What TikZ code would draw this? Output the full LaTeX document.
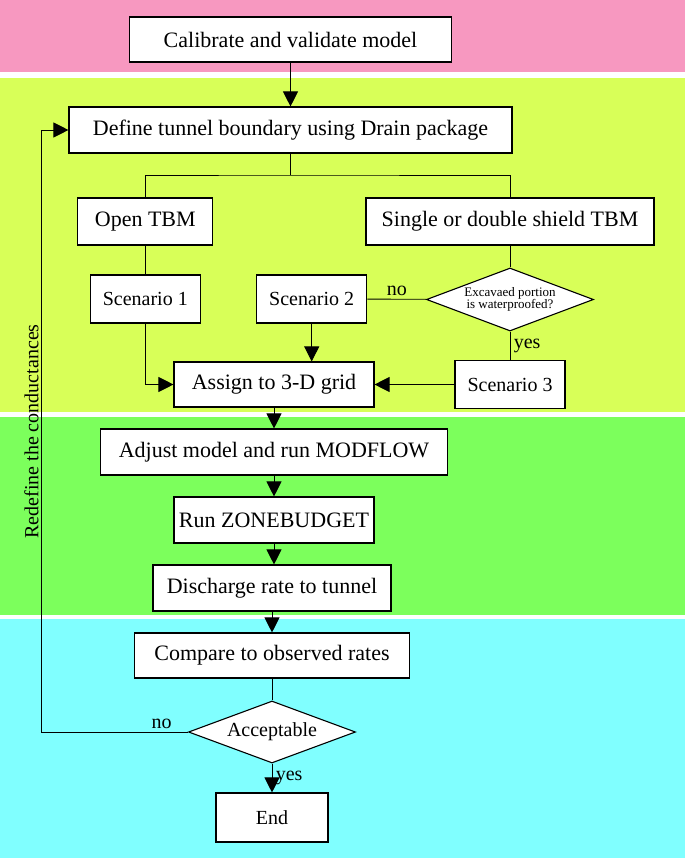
\documentclass[tikz,border=0pt]{standalone}
\usepackage{fontspec}
\setmainfont{Liberation Serif}
\usetikzlibrary{shapes.geometric,arrows.meta}

\definecolor{calibpink}{RGB}{247,152,192}
\definecolor{setupyellow}{RGB}{216,255,88}
\definecolor{rungreen}{RGB}{124,255,92}
\definecolor{checkcyan}{RGB}{128,255,255}

\begin{document}
\begin{tikzpicture}[x=1pt,y=-1pt]
    \tikzstyle{process} = [draw,fill=white,line width=1.1pt,inner sep=2pt,font=\fontsize{22}{26}\selectfont]
    \tikzstyle{scenario} = [process,minimum width=110,minimum height=48,font=\fontsize{20}{24}\selectfont]
    \tikzstyle{decision} = [draw,fill=white,diamond,aspect=2.65,line width=1.1pt,inner sep=0pt,align=center]
    \tikzstyle{flow} = [line width=0.9pt,-{Triangle[length=15pt,width=15pt]}]
    \tikzstyle{link} = [line width=0.9pt]
    \tikzstyle{answer} = [font=\fontsize{20}{24}\selectfont]
        % colour bands
        \useasboundingbox (0,0) rectangle (685,858);
        \fill[white] (0,0) rectangle (685,858);
        \fill[calibpink] (0,0) rectangle (685,72);
        \fill[setupyellow] (0,78) rectangle (685,412);
        \fill[rungreen] (0,417) rectangle (685,615);
        \fill[checkcyan] (0,619) rectangle (685,858);
        % boxes
        \node[process,minimum width=322,minimum height=45] (calib) at (290.5,39.5) {Calibrate and validate model};
        \node[process,minimum width=443,minimum height=46] (define) at (290.5,130) {Define tunnel boundary using Drain package};
        \node[process,minimum width=135,minimum height=47] (open) at (145.3,221.5) {Open TBM};
        \node[process,minimum width=288,minimum height=47] (single) at (510,221.5) {Single or double shield TBM};
        \node[scenario] (scen1) at (145.3,299) {Scenario 1};
        \node[scenario] (scen2) at (311.7,299) {Scenario 2};
        \node[decision,minimum width=167,minimum height=63,font=\fontsize{13}{12}\selectfont] (waterproof) at (510,299.5) {Excavaed portion\\is waterproofed?};
        \node[scenario] (scen3) at (510,384.5) {Scenario 3};
        \node[process,minimum width=200,minimum height=45] (assign) at (274,384.5) {Assign to 3-D grid};
        \node[process,minimum width=347,minimum height=46] (adjust) at (274,452) {Adjust model and run MODFLOW};
        \node[process,minimum width=200,minimum height=46] (zone) at (274,520) {Run ZONEBUDGET};
        \node[process,minimum width=238,minimum height=46] (discharge) at (272,588) {Discharge rate to tunnel};
        \node[process,minimum width=275,minimum height=45] (compare) at (272,655.5) {Compare to observed rates};
        \node[decision,minimum width=167,minimum height=62,font=\fontsize{20}{24}\selectfont] (accept) at (272,732) {Acceptable};
        \node[process,minimum width=112,minimum height=49,font=\fontsize{20}{24}\selectfont] (finish) at (272,817.5) {End};
        \node[answer,rotate=90] (redefine) at (31.5,431.5) {Redefine the conductances};
        \coordinate (split) at (290.5,175);
        \coordinate (loopturn) at (41.5,732);
        % connectors
        \draw[flow] (calib) -- (define);
        \draw[link] (define) -- (split);
        \draw[link] (open.north) |- (split) -| (single.north);
        \draw[link] (open) -- (scen1);
        \draw[link] (single) -- (waterproof);
        \draw[link] (waterproof) -- node[answer,above]{no} (scen2);
        \draw[link] (waterproof) -- node[answer,right]{yes} (scen3);
        \draw[flow] (scen1) |- (assign);
        \draw[flow] (scen2) -- (scen2 |- assign.north);
        \draw[flow] (scen3) -- (assign);
        \draw[flow] (assign) -- (adjust);
        \draw[flow] (adjust) -- (zone);
        \draw[flow] (zone) -- (zone |- discharge.north);
        \draw[flow] (discharge) -- (compare);
        \draw[link] (compare) -- (accept);
        \draw[flow] (accept) -- node[answer,right]{yes} (finish);
        \draw[flow] (accept.west) -- node[answer,above,pos=0.18]{no} (loopturn) |- (define.west);
\end{tikzpicture}
\end{document}
